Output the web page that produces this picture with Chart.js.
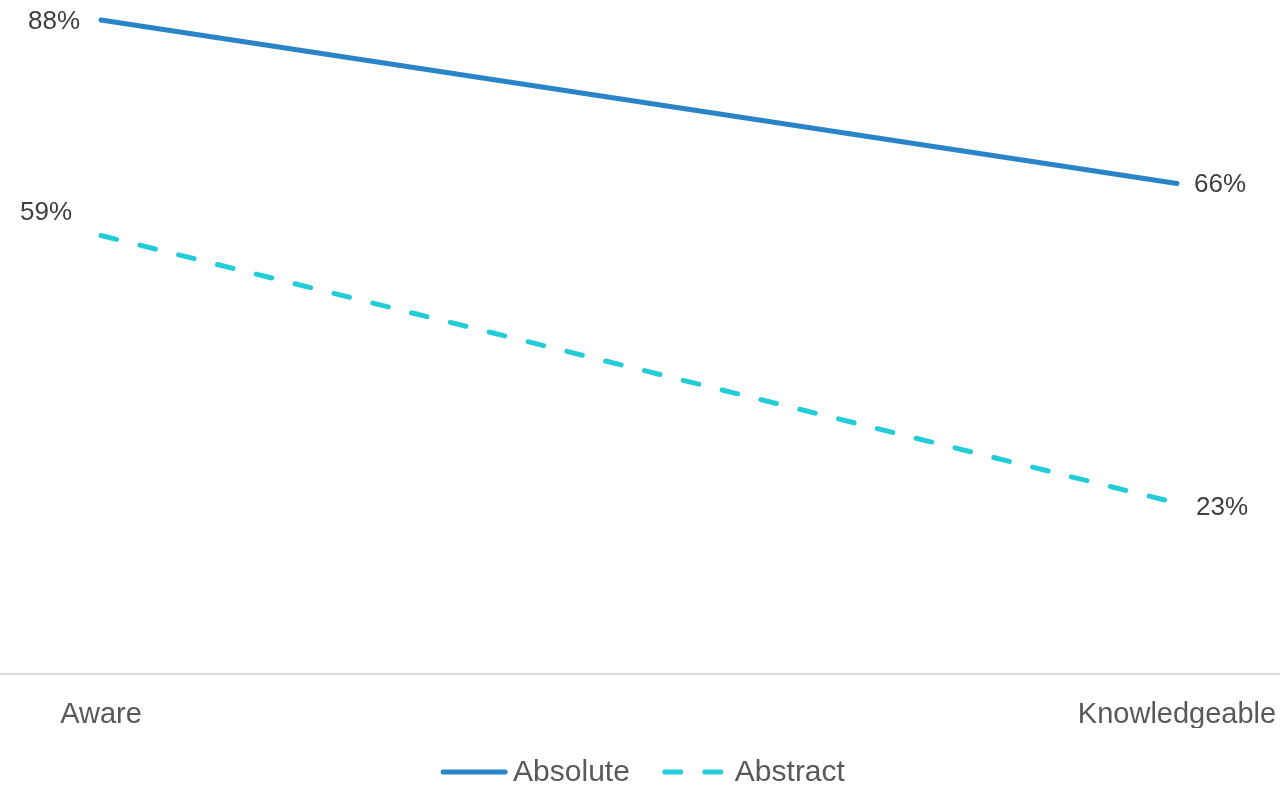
<!DOCTYPE html>
<html>
<head>
<meta charset="utf-8">
<script src="https://cdn.jsdelivr.net/npm/chart.js@4/dist/chart.umd.min.js"></script>
<style>
  html, body { margin: 0; padding: 0; background: #fff; }
  #wrap { width: 1280px; height: 792px; }
</style>
</head>
<body>
<div id="wrap"><canvas id="chart" width="1280" height="792"></canvas></div>
<script>
const FONT = "'Liberation Sans', Arial, sans-serif";

const stages = ["Aware", "Knowledgeable"];
const seriesNames = ["Absolute", "Abstract"];
const absoluteValues = [88, 66];
const abstractValues = [59, 23];

const lineColors = ["#2a84c8", "#22cdd8"];

// where each value label sits relative to its point: [dx, dy, align]
const labelPlacement = [
  [[-21, 2, "right"], [17, 1, "left"]],
  [[-29, -23, "right"], [19, 5, "left"]],
];

const ctx = document.getElementById("chart");

const valueLabels = {
  id: "valueLabels",
  afterDatasetsDraw(chart) {
    const c = chart.ctx;
    c.save();
    c.font = `26px ${FONT}`;
    c.fillStyle = "#404040";
    c.textBaseline = "middle";
    chart.data.datasets.forEach((ds, di) => {
      const meta = chart.getDatasetMeta(di);
      meta.data.forEach((pt, i) => {
        const [dx, dy, align] = labelPlacement[di][i];
        c.textAlign = align;
        c.fillText(ds.data[i] + "%", pt.x + dx, pt.y + dy);
      });
    });
    c.restore();
  },
};

// thin baseline running across the whole canvas under the plot
const baseline = {
  id: "baseline",
  beforeDatasetsDraw(chart) {
    const c = chart.ctx;
    const y = chart.chartArea.bottom;
    c.save();
    c.strokeStyle = "#d9d9d9";
    c.lineWidth = 2;
    c.beginPath();
    c.moveTo(0, y);
    c.lineTo(chart.width, y);
    c.stroke();
    c.restore();
  },
};

const lineLegend = {
  id: "lineLegend",
  afterDraw(chart) {
    const c = chart.ctx;
    const sample = 66, gapText = 6, gapItem = 33;
    c.save();
    c.font = `30px ${FONT}`;
    const widths = chart.data.datasets.map((ds) => sample + gapText + c.measureText(ds.label).width);
    const total = widths.reduce((a, b) => a + b, 0) + gapItem * (widths.length - 1);
    let x = chart.width / 2 - total / 2 + 3;
    const y = chart.height - 20;
    chart.data.datasets.forEach((ds, i) => {
      c.strokeStyle = ds.borderColor;
      c.lineWidth = ds.borderWidth;
      c.lineCap = "round";
      c.setLineDash(ds.borderDash || []);
      c.beginPath();
      c.moveTo(x + 2, y);
      c.lineTo(x + sample - 2, y);
      c.stroke();
      c.setLineDash([]);
      c.fillStyle = "#595959";
      c.textAlign = "left";
      c.textBaseline = "middle";
      c.fillText(ds.label, x + sample + gapText, y + 1);
      x += widths[i] + gapItem;
    });
    c.restore();
  },
};

new Chart(ctx, {
  type: "line",
  data: {
    labels: stages,
    datasets: [
      {
        label: seriesNames[0],
        data: absoluteValues,
        borderColor: lineColors[0],
        borderWidth: 5,
        borderCapStyle: "round",
        pointRadius: 0,
        tension: 0,
        clip: false,
      },
      {
        label: seriesNames[1],
        data: abstractValues,
        borderColor: lineColors[1],
        borderWidth: 5,
        borderCapStyle: "round",
        borderDash: [16, 24],
        pointRadius: 0,
        tension: 0,
        clip: false,
      },
    ],
  },
  options: {
    responsive: false,
    animation: false,
    layout: { padding: { left: 101, right: 103, top: 20, bottom: 64 } },
    plugins: {
      legend: { display: false },
      tooltip: { enabled: false },
    },
    scales: {
      x: {
        offset: false,
        grid: { display: false, drawTicks: false },
        border: { display: false },
        ticks: {
          padding: 24,
          color: "#595959",
          font: { family: FONT, size: 29 },
          maxRotation: 0,
        },
        afterFit(scale) {
          // let the end labels hang past the plot edges
          scale.paddingLeft = 0;
          scale.paddingRight = 0;
          scale.height = 54;
        },
      },
      y: {
        display: false,
        min: 0,
        max: 88,
      },
    },
  },
  plugins: [baseline, valueLabels, lineLegend],
});
</script>
</body>
</html>
